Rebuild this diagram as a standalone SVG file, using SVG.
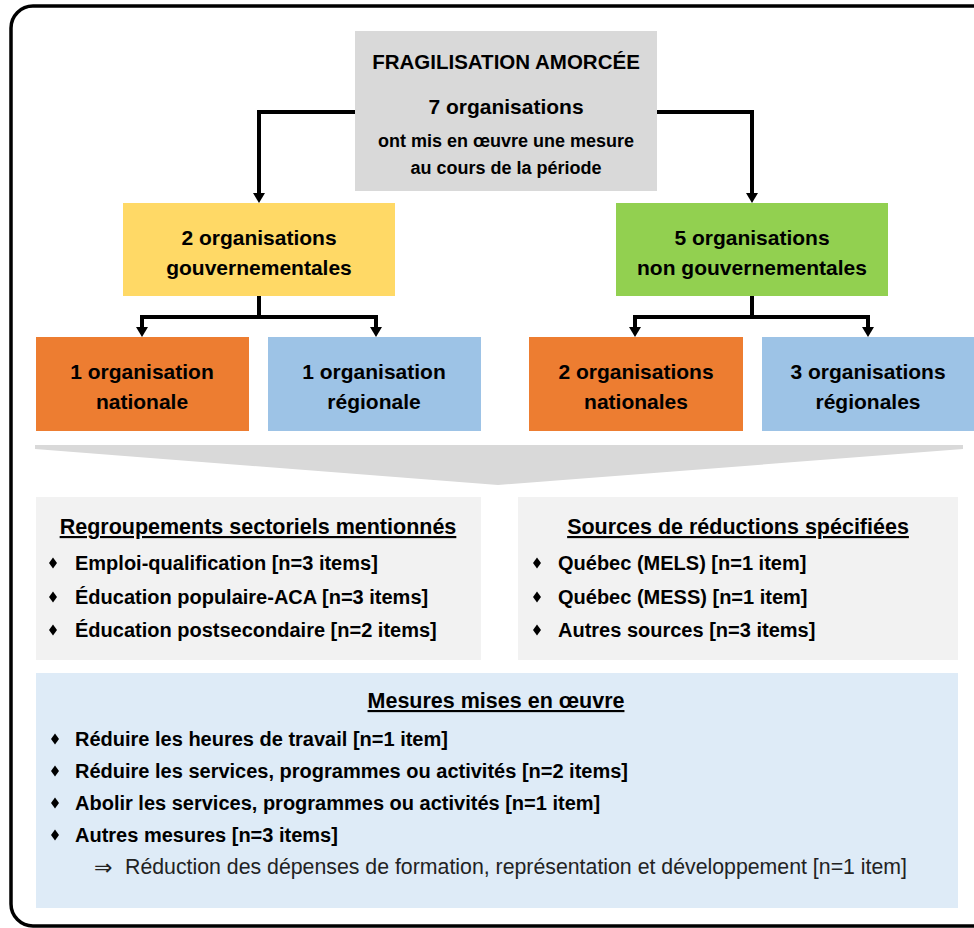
<svg xmlns="http://www.w3.org/2000/svg" xmlns:xlink="http://www.w3.org/1999/xlink" width="974" height="928" viewBox="0 0 974 928">
<defs>
<style>
text{font-family:"Liberation Sans",Arial,sans-serif;font-weight:bold;fill:#000}
.c{text-anchor:middle}
.big{font-size:21px}
.sm{font-size:18px}
.it{font-size:20px}
.ttl{font-size:21.5px;text-decoration:underline}
.reg{font-weight:normal;font-size:21.3px;fill:#222}
.conn{fill:none;stroke:#000;stroke-width:4;stroke-linejoin:miter}
</style>
<marker id="ah" viewBox="0 0 10 12" refX="2" refY="6" markerWidth="10" markerHeight="12" markerUnits="userSpaceOnUse" orient="auto">
<path d="M0,0 L10,6 L0,12 Z" fill="#000"/>
</marker>
<path id="dia" d="M0,-5.5 L4,0 L0,5.5 L-4,0 Z" fill="#000"/>
</defs>
<rect x="11" y="6" width="990" height="920" rx="22" ry="22" fill="#fff" stroke="#000" stroke-width="3.5"/>

<g id="connectors">
<path class="conn" d="M355,112 H259 V195" marker-end="url(#ah)"/>
<path class="conn" d="M657,112 H752 V195" marker-end="url(#ah)"/>
<path class="conn" d="M259,296 V317 M140,317 H378"/>
<path class="conn" d="M142,315 V329" marker-end="url(#ah)"/>
<path class="conn" d="M376,315 V329" marker-end="url(#ah)"/>
<path class="conn" d="M752,296 V317 M633,317 H870"/>
<path class="conn" d="M635,315 V329" marker-end="url(#ah)"/>
<path class="conn" d="M868,315 V329" marker-end="url(#ah)"/>
<polygon id="chevron" points="35,445 963,445 963,449 498,485 35,449" fill="#d9d9d9"/>
</g>

<g id="top">
<rect x="355" y="31" width="302" height="160" fill="#d9d9d9"/>
<text class="c" x="506" y="69" style="font-size:20.5px">FRAGILISATION AMORCÉE</text>
<text class="c big" x="506" y="114">7 organisations</text>
<text class="c sm" x="506" y="147">ont mis en œuvre une mesure</text>
<text class="c sm" x="506" y="174">au cours de la période</text>
</g>

<g id="gouv">
<rect x="123" y="203" width="272" height="93" fill="#ffd966"/>
<text class="c big" x="259" y="245">2 organisations</text>
<text class="c big" x="259" y="275">gouvernementales</text>
</g>

<g id="nongouv">
<rect x="616" y="203" width="272" height="93" fill="#92d050"/>
<text class="c big" x="752" y="245">5 organisations</text>
<text class="c big" x="752" y="275">non gouvernementales</text>
</g>

<g id="gouv-nat">
<rect x="36" y="337" width="213" height="94" fill="#ed7d31"/>
<text class="c big" x="142" y="379">1 organisation</text>
<text class="c big" x="142" y="409">nationale</text>
</g>

<g id="gouv-reg">
<rect x="268" y="337" width="213" height="94" fill="#9dc3e6"/>
<text class="c big" x="374" y="379">1 organisation</text>
<text class="c big" x="374" y="409">régionale</text>
</g>

<g id="ng-nat">
<rect x="529" y="337" width="214" height="94" fill="#ed7d31"/>
<text class="c big" x="636" y="379">2 organisations</text>
<text class="c big" x="636" y="409">nationales</text>
</g>

<g id="ng-reg">
<rect x="762" y="337" width="214" height="94" fill="#9dc3e6"/>
<text class="c big" x="868" y="379">3 organisations</text>
<text class="c big" x="868" y="409">régionales</text>
</g>

<g id="regroupements">
<rect x="36" y="497" width="445" height="163" fill="#f2f2f2"/>
<text class="c ttl" x="258" y="534">Regroupements sectoriels mentionnés</text>
<use xlink:href="#dia" x="53" y="563"/>
<text class="it" x="75" y="570">Emploi-qualification [n=3 items]</text>
<use xlink:href="#dia" x="53" y="597"/>
<text class="it" x="75" y="604">Éducation populaire-ACA [n=3 items]</text>
<use xlink:href="#dia" x="53" y="630"/>
<text class="it" x="75" y="637">Éducation postsecondaire [n=2 items]</text>
</g>

<g id="sources">
<rect x="518" y="497" width="440" height="163" fill="#f2f2f2"/>
<text class="c ttl" x="738" y="534">Sources de réductions spécifiées</text>
<use xlink:href="#dia" x="537" y="563"/>
<text class="it" x="558" y="570">Québec (MELS) [n=1 item]</text>
<use xlink:href="#dia" x="537" y="597"/>
<text class="it" x="558" y="604">Québec (MESS) [n=1 item]</text>
<use xlink:href="#dia" x="537" y="630"/>
<text class="it" x="558" y="637">Autres sources [n=3 items]</text>
</g>

<g id="mesures">
<rect x="36" y="673" width="922" height="235" fill="#deebf7"/>
<text class="c ttl" x="496" y="708">Mesures mises en œuvre</text>
<use xlink:href="#dia" x="55" y="739"/>
<text class="it" x="75" y="746">Réduire les heures de travail [n=1 item]</text>
<use xlink:href="#dia" x="55" y="771"/>
<text class="it" x="75" y="778">Réduire les services, programmes ou activités [n=2 items]</text>
<use xlink:href="#dia" x="55" y="803"/>
<text class="it" x="75" y="810">Abolir les services, programmes ou activités [n=1 item]</text>
<use xlink:href="#dia" x="55" y="835"/>
<text class="it" x="75" y="842">Autres mesures [n=3 items]</text>
<text class="reg" x="94" y="875" style="font-family:'DejaVu Sans',sans-serif;font-size:22px">⇒</text>
<text class="reg" x="125" y="874">Réduction des dépenses de formation, représentation et développement [n=1 item]</text>
</g>
</svg>
